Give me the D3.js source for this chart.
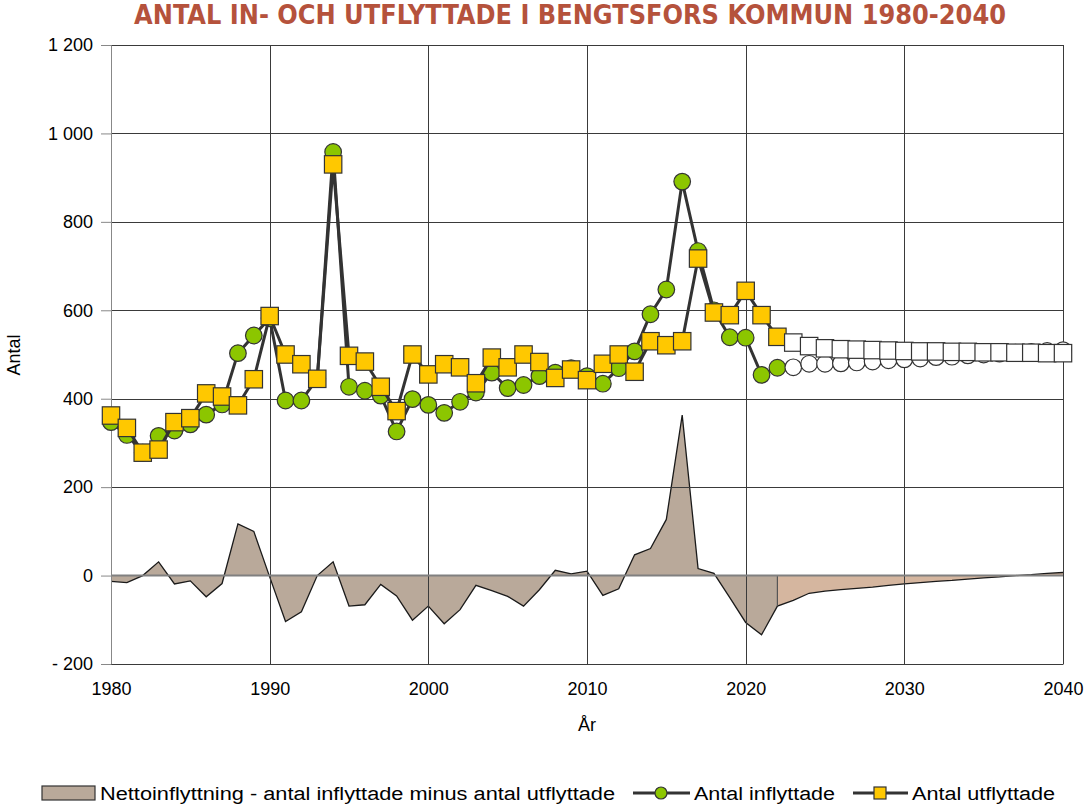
<!doctype html>
<html>
<head>
<meta charset="utf-8">
<script src="https://d3js.org/d3.v7.min.js"></script>
<style>
    body { margin: 0; background: #fff; }
    text { font-family: 'Liberation Sans', Arial, sans-serif; fill: #000; }
</style>
</head>
<body>
<div id="graph"></div>
<script>
    // years 1980-2040, history up to 2022, forecast after
    const years = d3.range(1980, 2041)
    const lastActual = 2022

    const inflyttade = [
        347, 318, 278, 316, 328, 342, 364, 387, 503, 543,
        582, 396, 396, 445, 958, 427, 418, 407, 326, 399,
        386, 368, 393, 414, 459, 424, 431, 451, 459, 469,
        451, 434, 469, 507, 591, 647, 891, 734, 600, 539,
        538, 454, 470,
        471, 479, 479, 480, 482, 484, 487, 489, 491, 494,
        495, 498, 500, 502, 504, 506, 508, 510
    ]
    const utflyttade = [
        362, 334, 278, 285, 347, 356, 412, 405, 385, 444,
        587, 500, 478, 445, 930, 497, 484, 427, 372, 500,
        455, 478, 471, 435, 493, 471, 500, 483, 447, 466,
        442, 479, 500, 461, 530, 521, 530, 717, 595, 589,
        644, 589, 540,
        527, 519, 514, 512, 511, 510, 509, 508, 507, 507,
        506, 506, 505, 505, 504, 504, 503, 503
    ]
    const netto = [
        -13, -16, 0, 31, -19, -12, -48, -18, 117, 100,
        -3, -104, -82, 0, 31, -69, -66, -20, -46, -101,
        -69, -109, -77, -22, -34, -47, -69, -32, 12, 4,
        10, -45, -30, 47, 61, 127, 363, 16, 5, -50,
        -106, -134, -69,
        -56, -40, -35, -32, -29, -26, -22, -19, -16, -13,
        -11, -8, -5, -3, 0, 2, 5, 7
    ]
    const yTicks = [-200, 0, 200, 400, 600, 800, 1000, 1200]
    const xTicks = [1980, 1990, 2000, 2010, 2020, 2030, 2040]

    function drawChart() {
        const W = 1089, H = 804
        const pLeft = 111, pRight = 1063, pTop = 45, pBottom = 664

        const svg = d3.select('#graph').append('svg')
            .attr('width', W).attr('height', H)

        const x = d3.scaleLinear().domain([1980, 2040]).range([pLeft, pRight])
        const y = d3.scaleLinear().domain([-200, 1200]).range([pBottom, pTop])

        const fmt = v => {
            if (v < 0) return '- ' + Math.abs(v)
            return d3.format(',')(v).replace(',', ' ')
        }

        // title
        svg.append('text')
            .attr('x', 570).attr('y', 24)
            .attr('text-anchor', 'middle')
            .attr('textLength', 872)
            .attr('lengthAdjust', 'spacingAndGlyphs')
            .style('font-family', "'Liberation Sans Narrow', 'DejaVu Sans Condensed', Arial, sans-serif")
            .style('font-weight', 'bold')
            .style('font-size', '27px')
            .style('fill', '#b5523c')
            .text('ANTAL IN- OCH UTFLYTTADE I BENGTSFORS KOMMUN 1980-2040')

        const rows = years.map((yr, i) => ({ yr, inn: inflyttade[i], ut: utflyttade[i], net: netto[i] }))
        const hist = rows.filter(d => d.yr <= lastActual)
        const prog = rows.filter(d => d.yr >= lastActual)

        // net area
        const area = d3.area().x(d => x(d.yr)).y0(y(0)).y1(d => y(d.net))
        svg.append('path').datum(hist)
            .attr('d', area)
            .attr('fill', '#b9a99a')
        svg.append('path').datum(prog)
            .attr('d', area)
            .attr('fill', '#d5b69f')
        const netLine = d3.line().x(d => x(d.yr)).y(d => y(d.net))
        svg.append('path').datum(rows)
            .attr('d', netLine)
            .attr('fill', 'none')
            .attr('stroke', '#1a1a1a')
            .attr('stroke-width', 1.3)
        svg.append('line')
            .attr('x1', x(lastActual)).attr('x2', x(lastActual))
            .attr('y1', y(0)).attr('y2', y(netto[years.indexOf(lastActual)]))
            .attr('stroke', '#555').attr('stroke-width', 1.2)

        // grid
        const grid = svg.append('g')
        grid.selectAll('.hg').data(yTicks.filter(v => v !== 0))
            .enter().append('line')
            .attr('x1', pLeft).attr('x2', pRight)
            .attr('y1', d => Math.round(y(d)) + 0.5).attr('y2', d => Math.round(y(d)) + 0.5)
            .attr('stroke', '#3a3a3a').attr('stroke-width', 1)
        grid.selectAll('.vg').data(xTicks.slice(1))
            .enter().append('line')
            .attr('x1', d => Math.round(x(d)) + 0.5).attr('x2', d => Math.round(x(d)) + 0.5)
            .attr('y1', pTop).attr('y2', pBottom)
            .attr('stroke', '#3a3a3a').attr('stroke-width', 1)
        grid.append('line')
            .attr('x1', pLeft).attr('x2', pRight)
            .attr('y1', y(0)).attr('y2', y(0))
            .attr('stroke', '#808080').attr('stroke-width', 2)

        // axes
        const yAxis = svg.append('g')
            .attr('transform', `translate(${pLeft},0)`)
            .call(d3.axisLeft(y).tickValues(yTicks).tickFormat(fmt).tickSize(10).tickPadding(8))
        yAxis.select('.domain').attr('stroke', '#888')
        yAxis.selectAll('.tick line').attr('stroke', '#888')
        yAxis.selectAll('text').style('font-size', '18px').attr('fill', '#000')

        const xAxis = svg.append('g')
            .attr('transform', `translate(0,${pBottom})`)
            .call(d3.axisBottom(x).tickValues(xTicks).tickFormat(d3.format('d')).tickSize(0).tickPadding(18))
        xAxis.select('.domain').attr('stroke', '#3a3a3a')
        xAxis.selectAll('text').style('font-size', '18px').attr('fill', '#000')

        svg.append('text')
            .attr('x', (pLeft + pRight) / 2).attr('y', 731)
            .attr('text-anchor', 'middle')
            .style('font-size', '18px')
            .text('År')
        svg.append('text')
            .attr('transform', 'translate(20,355) rotate(-90)')
            .attr('text-anchor', 'middle')
            .style('font-size', '18px')
            .text('Antal')

        // lines + markers
        const lineIn = d3.line().x(d => x(d.yr)).y(d => y(d.inn))
        const lineUt = d3.line().x(d => x(d.yr)).y(d => y(d.ut))

        svg.append('path').datum(rows)
            .attr('d', lineIn)
            .attr('fill', 'none').attr('stroke', '#333').attr('stroke-width', 3)
        svg.selectAll('.cin').data(rows)
            .enter().append('circle')
            .attr('cx', d => x(d.yr)).attr('cy', d => y(d.inn))
            .attr('r', 8.3)
            .attr('fill', d => d.yr <= lastActual ? '#8cc600' : '#fff')
            .attr('stroke', '#333').attr('stroke-width', 1.2)

        svg.append('path').datum(rows)
            .attr('d', lineUt)
            .attr('fill', 'none').attr('stroke', '#333').attr('stroke-width', 3)
        svg.selectAll('.sut').data(rows)
            .enter().append('rect')
            .attr('x', d => x(d.yr) - 8.7).attr('y', d => y(d.ut) - 8.7)
            .attr('width', 17.4).attr('height', 17.4)
            .attr('fill', d => d.yr <= lastActual ? '#ffc800' : '#fff')
            .attr('stroke', '#333').attr('stroke-width', 1.2)

        // legend
        const lg = svg.append('g')
        lg.append('rect')
            .attr('x', 42).attr('y', 786).attr('width', 53).attr('height', 14)
            .attr('fill', '#b9a99a').attr('stroke', '#333').attr('stroke-width', 1.2)
        lg.append('text').attr('x', 100).attr('y', 800)
            .style('font-size', '18px')
            .attr('textLength', 515).attr('lengthAdjust', 'spacingAndGlyphs')
            .text('Nettoinflyttning - antal inflyttade minus antal utflyttade')

        lg.append('line').attr('x1', 633).attr('x2', 690).attr('y1', 793).attr('y2', 793)
            .attr('stroke', '#333').attr('stroke-width', 3)
        lg.append('circle').attr('cx', 661).attr('cy', 793).attr('r', 6)
            .attr('fill', '#8cc600').attr('stroke', '#333').attr('stroke-width', 1.2)
        lg.append('text').attr('x', 694).attr('y', 800)
            .style('font-size', '18px')
            .attr('textLength', 141).attr('lengthAdjust', 'spacingAndGlyphs')
            .text('Antal inflyttade')

        lg.append('line').attr('x1', 853).attr('x2', 908).attr('y1', 793).attr('y2', 793)
            .attr('stroke', '#333').attr('stroke-width', 3)
        lg.append('rect').attr('x', 874).attr('y', 787).attr('width', 12).attr('height', 12)
            .attr('fill', '#ffc800').attr('stroke', '#333').attr('stroke-width', 1.2)
        lg.append('text').attr('x', 912).attr('y', 800)
            .style('font-size', '18px')
            .attr('textLength', 143).attr('lengthAdjust', 'spacingAndGlyphs')
            .text('Antal utflyttade')
    }

    drawChart()
</script>
</body>
</html>
